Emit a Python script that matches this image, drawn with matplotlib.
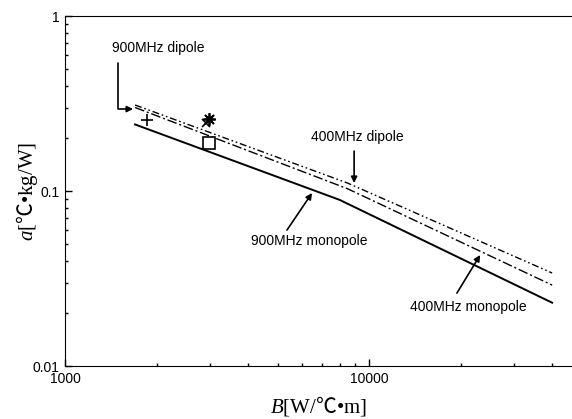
import matplotlib
matplotlib.use('Agg')
import matplotlib.pyplot as plt

# data (log-log)
B_pts = [1700, 8000, 40000]
mono900 = [0.24, 0.089, 0.023]
B_dip = [1700, 8500, 40000]
dip400 = [0.31, 0.111, 0.034]
mono400 = [0.30, 0.103, 0.029]

# measured points
plus_B, plus_a = [1860], [0.255]
star_B, star_a = [2980], [0.258]
cross_B, cross_a = [2910], [0.245]
sq_B, sq_a = [2980], [0.188]

plt.rcParams['mathtext.fontset'] = 'custom'
plt.rcParams['mathtext.it'] = 'Liberation Serif:italic'
plt.rcParams['mathtext.rm'] = 'Liberation Serif'
plt.rcParams['mathtext.sf'] = 'Noto Sans CJK JP'

fig = plt.figure(figsize=(5.72, 4.19), dpi=100)
ax = fig.add_axes([65 / 572, 1 - 366 / 419, 1 - 65 / 572, 350 / 419])

ax.plot(B_pts, mono900, color='black', lw=1.4)
ax.plot(B_dip, dip400, color='black', lw=1.0, dashes=(5, 2, 1.2, 2, 1.2, 2))
ax.plot(B_dip, mono400, color='black', lw=1.0, dashes=(7, 2, 1.5, 2))

ax.plot(plus_B, plus_a, '+', color='black', ms=8, mew=1.2)
ax.plot(star_B, star_a, marker=(8, 2, 0), ls='none', color='black', ms=9, mew=1.3)
ax.plot(cross_B, cross_a, 'x', color='black', ms=6, mew=1.2)
ax.plot(sq_B, sq_a, 's', mfc='white', mec='black', ms=8, mew=1.2)

ax.set_xscale('log')
ax.set_yscale('log')
ax.set_xlim(1000, 46500)
ax.set_ylim(0.01, 1)
ax.set_xticks([1000, 10000])
ax.set_xticklabels(['1000', '10000'])
ax.set_yticks([0.01, 0.1, 1])
ax.set_yticklabels(['0.01', '0.1', '1'])

ax.spines['right'].set_visible(False)
ax.tick_params(which='both', direction='in', top=False, right=False,
               labelsize=10, pad=4)
ax.tick_params(which='major', length=5, width=1)
ax.tick_params(which='minor', length=2.5, width=1)
for lab in ax.get_xticklabels() + ax.get_yticklabels():
    lab.set_family('Liberation Sans')

fs = 10
akw = dict(arrowstyle='-|>', color='black', lw=1.2, mutation_scale=9,
           shrinkA=0, shrinkB=0)

ax.text(2020, 0.656, '900MHz dipole', ha='center', va='center',
        fontsize=fs, family='Liberation Sans')
ax.annotate('', xy=(1675, 0.294), xytext=(1490, 0.54),
            arrowprops=dict(connectionstyle='angle,angleA=-90,angleB=0,rad=0', **akw))

ax.text(9140, 0.204, '400MHz dipole', ha='center', va='center',
        fontsize=fs, family='Liberation Sans')
ax.annotate('', xy=(8930, 0.111), xytext=(8930, 0.169), arrowprops=akw)

ax.text(6350, 0.0518, '900MHz monopole', ha='center', va='center',
        fontsize=fs, family='Liberation Sans')
ax.annotate('', xy=(6495, 0.0974), xytext=(5370, 0.0598), arrowprops=akw)

ax.text(21200, 0.0217, '400MHz monopole', ha='center', va='center',
        fontsize=fs, family='Liberation Sans')
ax.annotate('', xy=(23200, 0.0431), xytext=(19450, 0.0261), arrowprops=akw)

ax.set_xlabel(r'$B$[W/$\mathsf{℃}$•m]', fontsize=15, family='Liberation Serif', labelpad=6)
ax.set_ylabel(r'$a$[$\mathsf{℃}$•kg/W]', fontsize=15, family='Liberation Serif', labelpad=-5)

fig.savefig('out.png', dpi=100)
